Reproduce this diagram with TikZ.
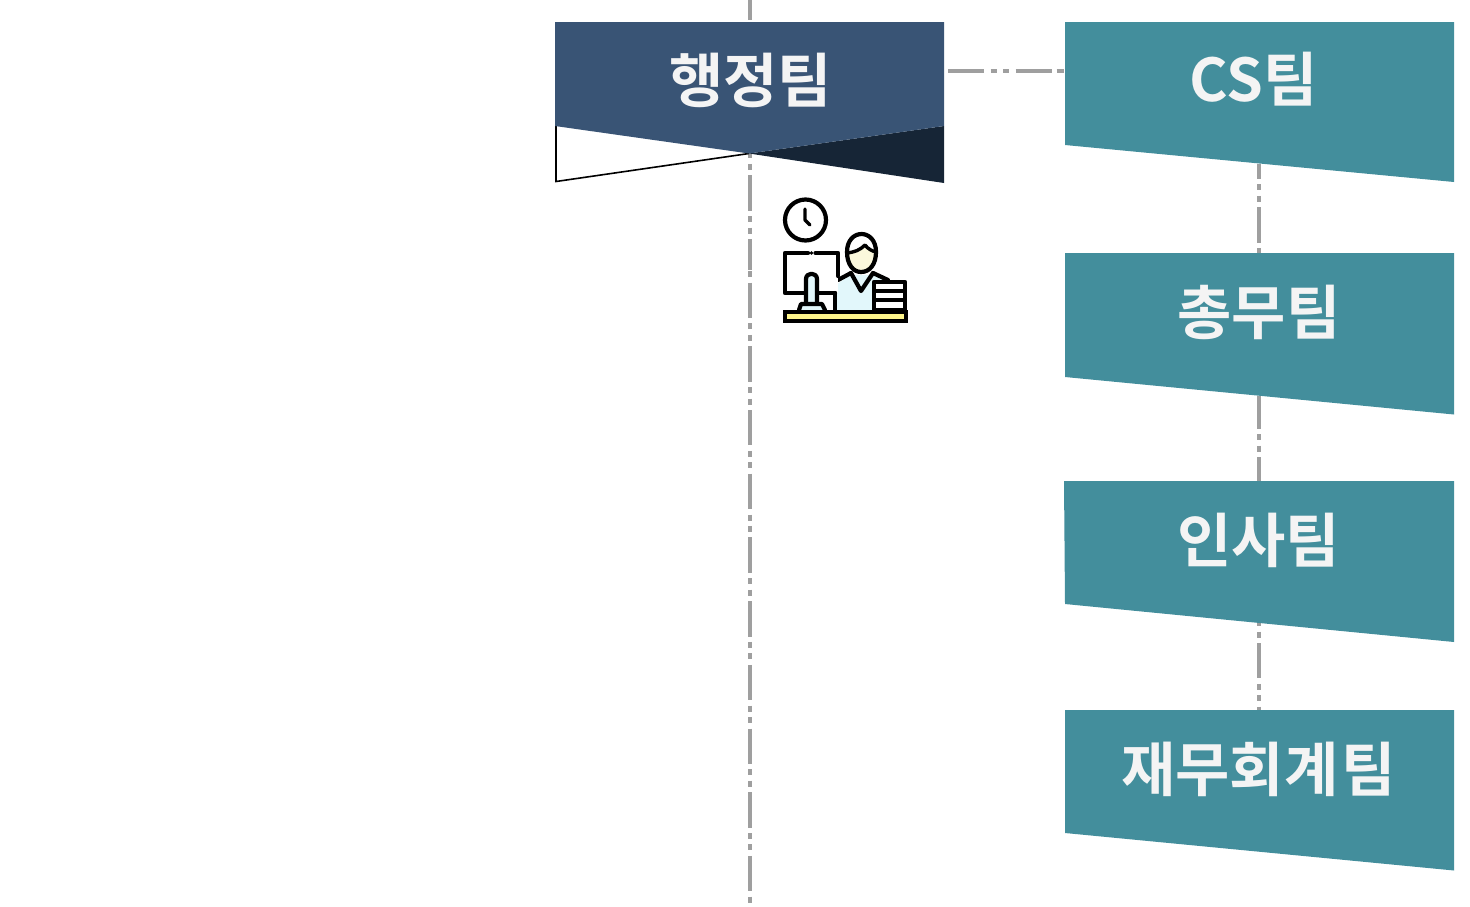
\documentclass[tikz,border=0pt]{standalone}
\usepackage{fontspec}
\newfontfamily\krfont{Noto Sans CJK KR Bold}
\tikzset{
  dashline/.style={draw=linegray,line width=3.9pt,dash pattern=on 35.4pt off 5.4pt on 6pt off 5.4pt on 6pt off 5.5pt},
  teambox/.style={fill=teal1,draw=none},
  teamlabel/.style={text=textwhite,font=\krfont\fontsize{59}{59}\selectfont,inner sep=0pt,anchor=center},
  icon/.style={line width=4.2pt,draw=black,line join=round,line cap=round},
}
\definecolor{linegray}{HTML}{9F9F9F}
\definecolor{teal1}{HTML}{438E9C}
\definecolor{navy1}{HTML}{395475}
\definecolor{navy2}{HTML}{162536}
\definecolor{yellow1}{HTML}{FFF68C}
\definecolor{ice}{HTML}{E2F7FB}
\definecolor{skin}{HTML}{FBF8DC}
\definecolor{textwhite}{HTML}{F4F4F4}
\begin{document}
\begin{tikzpicture}[x=1pt,y=-1pt]
\useasboundingbox (0,0) rectangle (1470,906);
% named anchors of connectors
\coordinate (mtop) at (749.6,0);
\coordinate (mmida) at (749.6,270);
\coordinate (mmidb) at (749.6,271.1);
\coordinate (mbot) at (749.6,904);
\coordinate (hr) at (948,71);
\coordinate (hc) at (1064,71);
\coordinate (c1a) at (1259,164);\coordinate (c1b) at (1259,253);
\coordinate (c2a) at (1259,396);\coordinate (c2b) at (1259,481);
\coordinate (c3a) at (1259,623);\coordinate (c3b) at (1259,710);
% connectors
\draw[dashline,dash phase=15.8pt] (mtop) -- (mmida);
\draw[dashline,dash phase=52.2pt] (mmidb) -- (mbot);
\draw[dashline,dash pattern=on 36pt off 6.5pt on 6pt off 6.5pt on 6pt off 6.5pt on 36pt off 5pt on 9pt off 5pt] (hr) -- (hc);
\draw[dashline,dash phase=20.4pt] (c1a) -- (c1b);
\draw[dashline,dash phase=2.7pt] (c2a) -- (c2b);
\draw[dashline,dash phase=43.7pt] (c3a) -- (c3b);
% admin ribbon
\fill[white] (556,126) -- (749,153.5) -- (556,181.5) -- cycle;
\draw[black,line width=1.6pt] (556,126) -- (556,181.5) -- (749,153.5);
\fill[navy2] (944,126) -- (749,153.5) -- (944,183) -- cycle;
\fill[navy1] (555,22) -- (944,22) -- (944,126) -- (749,153.5) -- (555,126) -- cycle;
\node[teamlabel] (admin) at (750.5,80) {행정팀};
% team boxes
\fill[teambox] (1065,22) -- (1454,22) -- (1454,182) -- (1065,145) -- cycle;
\node[teamlabel] (cs) at (1253.5,79.5) {CS팀};
\fill[teambox] (1065,253) -- (1454,253) -- (1454,414.5) -- (1065,377) -- cycle;
\node[teamlabel] (gen) at (1259,312.5) {총무팀};
\fill[teambox] (1064,481) -- (1454,481) -- (1454,642) -- (1065,604) -- cycle;
\node[teamlabel] (hr1) at (1258.5,540) {인사팀};
\fill[teambox] (1065,710) -- (1454,710) -- (1454,870.5) -- (1065,833) -- cycle;
\node[teamlabel] (fin) at (1258.5,769) {재무회계\hspace{3pt}팀};
% icon
\draw[icon] (805.5,220) circle (20.5);
\draw[icon,line width=3.4pt] (805,209) -- (805,220) -- (810,225);
% body
\fill[ice] (836,310) -- (836,285) -- (850,275) -- (880,275) -- (888,285) -- (888,310) -- cycle;
\draw[icon] (838,280) -- (851,273);
\draw[icon] (873,273) -- (888,280);
\draw[icon] (851,273) -- (861,291) -- (873,273);
% head
\fill[skin] (861,256) ellipse (14 and 17);
\fill[white] (847,252) .. controls (847,229) and (876,229) .. (876,252) .. controls (872,251) and (868,249) .. (865,245) .. controls (860,250) and (855,252) .. (847,253) -- cycle;
\draw[icon] (847,252) .. controls (847,228) and (876,228) .. (876,252) .. controls (876,264) and (870,272) .. (861,272) .. controls (853,272) and (847,264) .. (847,252) -- cycle;
\draw[icon,line width=3.4pt] (847,253) .. controls (855,252) and (860,250) .. (865,245) .. controls (868,249) and (872,251) .. (876,252);
% monitor
\fill[white] (785,253) rectangle (838,293);
\draw[icon] (808,253) -- (785,253) -- (785,293) -- (804,293);
\draw[icon] (815.5,253) -- (838,253) -- (838,276);
\draw[icon] (835,293) -- (818,293);
\fill[black] (811.5,253) circle (1.8);
\fill[ice] (806,310) -- (806,278) .. controls (806,272) and (817,272) .. (817,278) -- (817,310) -- cycle;
\draw[icon] (806,303) -- (806,279) .. controls (806,272) and (817,272) .. (817,279) -- (817,303);
\fill[ice] (799,311) -- (801,304) -- (822,304) -- (825,311) -- cycle;
\draw[icon] (799,310) -- (801,304) -- (822,304) -- (825,310);
\draw[icon] (835,293) -- (835,310);
% books
\fill[white] (874,282) rectangle (905,310);
\draw[icon] (874,282) -- (905,282) -- (905,310) -- (874,310) -- cycle;
\draw[icon,line width=3.4pt] (874,291) -- (905,291);
\draw[icon,line width=3.4pt] (874,300) -- (905,300);
% desk
\fill[yellow1] (785,312) rectangle (906,321);
\draw[icon,line cap=butt,line join=miter] (785,312) rectangle (906,321);
\end{tikzpicture}
\end{document}
